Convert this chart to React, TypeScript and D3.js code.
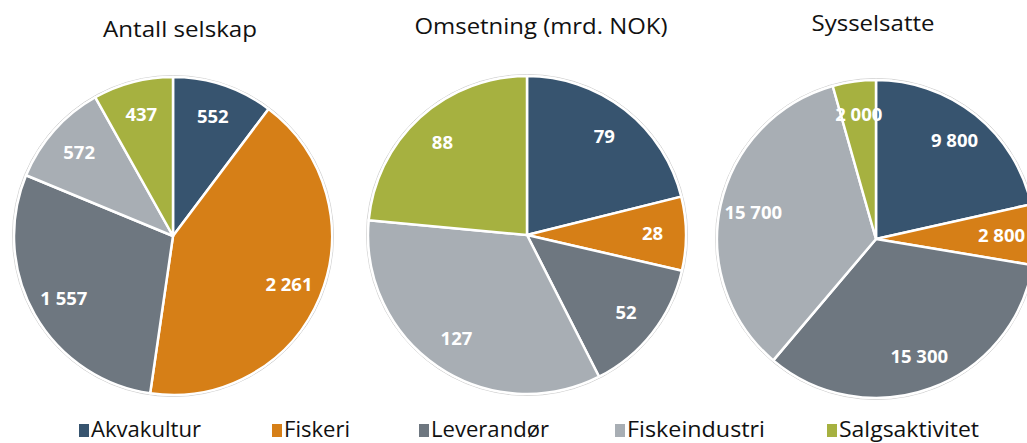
import React from "react";
import * as d3 from "d3";

const categories = ["Akvakultur", "Fiskeri", "Leverandør", "Fiskeindustri", "Salgsaktivitet"];
const colors = ["#37546f", "#d67f17", "#6e7780", "#a8aeb4", "#a6b140"];

const titles = ["Antall selskap", "Omsetning (mrd. NOK)", "Sysselsatte"];
const antallSelskap = [552, 2261, 1557, 572, 437];
const omsetning = [79, 28, 52, 127, 88];
const sysselsatte = [9800, 2800, 15300, 15700, 2000];
const series = [antallSelskap, omsetning, sysselsatte];

const W = 1027;
const H = 443;
const centers = [
  { x: 173, y: 236, titleX: 180, titleY: 37, titleW: 154 },
  { x: 527, y: 235, titleX: 541, titleY: 34, titleW: 253 },
  { x: 876, y: 239, titleX: 873, titleY: 31, titleW: 123 },
];
const legendX = [79, 272, 419, 615, 827];
const legendW = [110, 66, 118, 138, 140];

const fmt = (v: number) => d3.format(",")(v).replace(/,/g, " ");

function Pie({ values, cx, cy, r }: { values: number[]; cx: number; cy: number; r: number }) {
  const pie = d3.pie<number>().sort(null).value((d) => d);
  const arcs = pie(values);
  const arc = d3.arc<d3.PieArcDatum<number>>().innerRadius(0).outerRadius(r);
  const labelArc = d3.arc<d3.PieArcDatum<number>>().innerRadius(r * 0.79).outerRadius(r * 0.79);
  return (
    <g transform={`translate(${cx},${cy})`}>
      <circle r={r + 1.5} fill="none" stroke="#d0d0d0" strokeWidth={1} />
      {arcs.map((a, i) => (
        <path key={i} d={arc(a) || ""} fill={colors[i]} stroke="#fff" strokeWidth={2.5} strokeLinejoin="round" />
      ))}
      {arcs.map((a, i) => {
        const [lx, ly] = labelArc.centroid(a);
        return (
          <text key={"l" + i} x={lx} y={ly} dy="0.35em" textAnchor="middle" fill="#fff"
            fontFamily="Open Sans, sans-serif" fontWeight="bold" fontSize={18.5}>
            {fmt(a.data)}
          </text>
        );
      })}
    </g>
  );
}

export default function App() {
  return (
    <svg width={W} height={H} style={{ position: "absolute", left: 0, top: 0, background: "#fff", overflow: "hidden" }}>
      <rect width={W} height={H} fill="#fff" />
      {series.map((vals, k) => (
        <Pie key={k} values={vals} cx={centers[k].x} cy={centers[k].y} r={159} />
      ))}
      {titles.map((t, k) => (
        <text key={t} x={centers[k].titleX - centers[k].titleW / 2} y={centers[k].titleY}
          fontFamily="Open Sans, sans-serif" fontSize={22} fill="#111"
          textLength={centers[k].titleW} lengthAdjust="spacingAndGlyphs">
          {t}
        </text>
      ))}
      {categories.map((c, i) => (
        <g key={c}>
          <rect x={legendX[i]} y={424} width={10} height={13} fill={colors[i]} />
          <text x={legendX[i] + 12} y={437} fontFamily="Open Sans, sans-serif" fontSize={22} fill="#111"
            textLength={legendW[i]} lengthAdjust="spacingAndGlyphs">
            {c}
          </text>
        </g>
      ))}
    </svg>
  );
}
